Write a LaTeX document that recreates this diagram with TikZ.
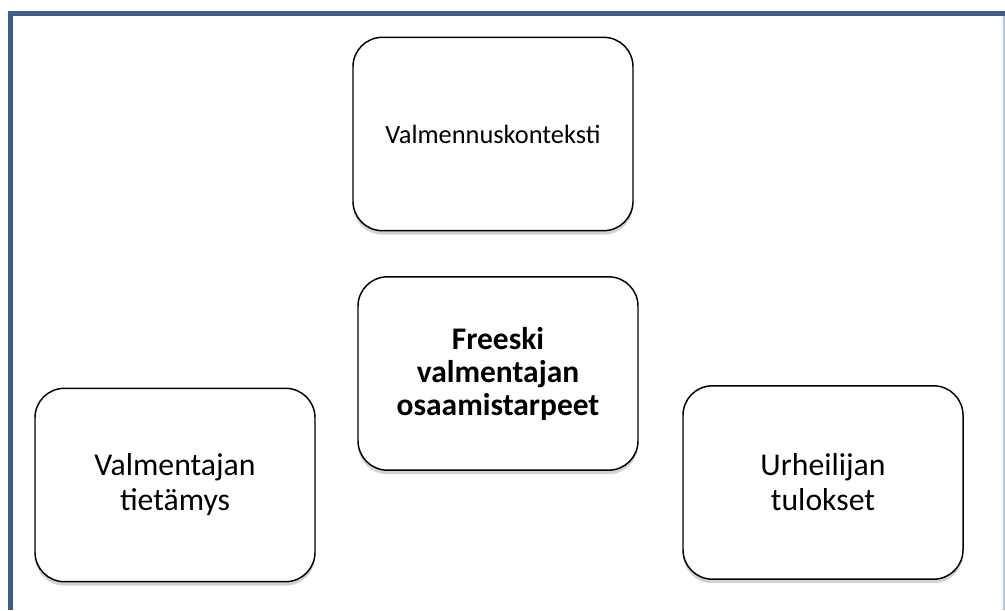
\documentclass[tikz,border=0pt]{standalone}
\usepackage{fontspec}
\setmainfont{Carlito}
\usepackage{tikz}
\usetikzlibrary{shadows,positioning}
\definecolor{framblue}{HTML}{3A5E8E}
\definecolor{framlight}{HTML}{B4C6DC}

\begin{document}
\begin{tikzpicture}[x=0.75pt,y=-0.75pt,
    topicbox/.style={draw, line width=1.1pt, rounded corners=22pt, fill=white,
        minimum width=210pt, minimum height=145pt, align=center, inner sep=0pt,
        drop shadow={shadow xshift=0pt, shadow yshift=-3pt, opacity=0.35}}]
    \useasboundingbox (0,0) rectangle (1005,610);
    \fill [white] (0,0) rectangle (1005,610);
    
    % frame
    \draw [framblue, line width=3.75pt] (10.5,610) -- (10.5,13.5) -- (1005,13.5);
    \draw [framlight, line width=1pt] (1004,16) -- (1004,610);
    
    \node [topicbox, font=\fontsize{19.8}{23}\selectfont] (konteksti) at (493,134) {Valmennuskonteksti};
    \node [topicbox, font=\bfseries\fontsize{23.6}{24.75}\selectfont] (tarpeet) at (498,373.5) {Freeski\\valmentajan\\osaamistarpeet};
    \node [topicbox, font=\fontsize{23.8}{26.25}\selectfont] (tietamys) at (175,485) {Valmentajan\\tietämys};
    \node [topicbox, font=\fontsize{23.8}{26.25}\selectfont] (tulokset) at (823,482.5) {Urheilijan\\tulokset};
\end{tikzpicture}
\end{document}
